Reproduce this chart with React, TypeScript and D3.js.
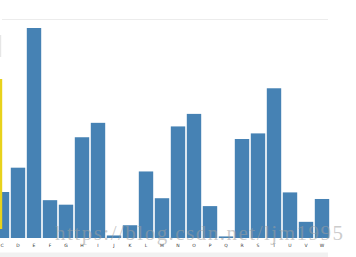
import React from "react";
import * as d3 from "d3";

const letters = ["C","D","E","F","G","H","I","J","K","L","M","N","O","P","Q","R","S","T","U","V","W"];
const frequencies = [0.02782,0.04253,0.12702,0.02288,0.02015,0.06094,0.06966,0.00153,0.00772,0.04025,0.02406,0.06749,0.07507,0.01929,0.00095,0.05987,0.06327,0.09056,0.02758,0.00978,0.0236];
const watermark = "https://blog.csdn.net/ljm1995";

const W = 356, H = 257;

export default function App() {
  const x = d3.scaleBand<string>().domain(letters).range([-6, 330]).paddingInner(0.1).paddingOuter(0.05);
  const y = d3.scaleLinear().domain([0, d3.max(frequencies) as number]).range([238, 28]);
  return (
    <svg width={W} height={H} style={{ position: "absolute", left: 0, top: 0, background: "#fff" }}>
      <line x1={2} x2={328} y1={19.5} y2={19.5} stroke="#ececec" strokeWidth={1} />
      <rect x={0} y={35} width={1.2} height={22} fill="#e6e6e6" />
      <rect x={0} y={252.5} width={328} height={5} fill="#f1f1f1" />
      {letters.map((l, i) => (
        <rect key={l} x={x(l)} y={y(frequencies[i])} width={x.bandwidth()} height={y(0) - y(frequencies[i])} fill="#4682b4" />
      ))}
      <rect x={0} y={79} width={2.2} height={150} fill="#e8d21c" />
      {letters.map((l) => (
        <text key={"t" + l} x={(x(l) as number) + x.bandwidth() / 2} y={247} textAnchor="middle" fontSize={4.5} fill="#333" fontFamily="DejaVu Sans, sans-serif">{l}</text>
      ))}
      <text x={55} y={240} fontSize={21} fontFamily="Liberation Serif, serif" fill="#a0a0a0" fillOpacity={0.55} textLength={288} lengthAdjust="spacing">{watermark}</text>
    </svg>
  );
}
